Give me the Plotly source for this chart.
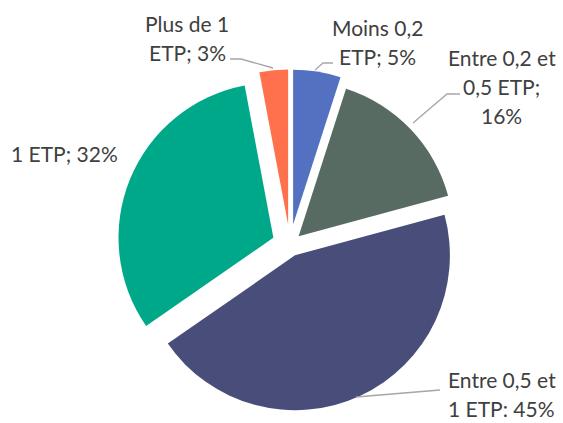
import plotly.graph_objects as go

# ---- data ----
categories = ["Moins 0,2 ETP", "Entre 0,2 et 0,5 ETP", "Entre 0,5 et 1 ETP", "1 ETP", "Plus de 1 ETP"]
values = [5, 16, 45, 32, 3]
label_texts = ["Moins 0,2<br>ETP; 5%", "Entre 0,2 et<br>0,5 ETP;<br>16%", "Entre 0,5 et<br>1 ETP: 45%",
               "1 ETP; 32%", "Plus de 1<br>ETP; 3%"]
colors = ["#5470C0", "#586B62", "#484D7A", "#00A88A", "#FF704D"]
pulls = [0.13, 0.077, 0.077, 0.116, 0.13]

W, H = 563, 423
LINE_GAP = 29


def px(x):
    return x / W


def py(y):
    return (H - y) / H


fig = go.Figure(go.Pie(
    labels=categories,
    values=values,
    sort=False,
    direction="clockwise",
    rotation=0,
    pull=pulls,
    marker=dict(colors=colors, line=dict(width=0)),
    textinfo="none",
    hoverinfo="label+percent",
    domain=dict(x=[px(114.5), px(465.5)], y=[py(419.5), py(69.5)]),
    showlegend=False,
))

# label positions (pixel centres of each text block) and leader lines
label_pos = [(377, 42.5), (502, 87), (502, 394), (64, 153), (187, 38.5)]
leaders = [
    [(333, 63), (323, 63), (315, 70)],
    [(460, 94), (447, 94), (413, 123)],
    [(440, 390), (356, 397)],
    None,
    [(230, 59), (241, 59), (273, 68)],
]

annotations = []
for txt, (x, y) in zip(label_texts, label_pos):
    lines = txt.split("<br>")
    n = len(lines)
    for i, line in enumerate(lines):
        ly = y + (i - (n - 1) / 2) * LINE_GAP
        annotations.append(dict(
            x=px(x), y=py(ly), xref="paper", yref="paper",
            text=line, showarrow=False, xanchor="center", yanchor="middle",
            align="center", borderpad=0,
            font=dict(family="Lato, Calibri, sans-serif", size=21, color="#404040"),
        ))

shapes = []
for pts in leaders:
    if not pts:
        continue
    path = "M " + " L ".join(f"{px(x)},{py(y)}" for x, y in pts)
    shapes.append(dict(type="path", xref="paper", yref="paper", path=path,
                       line=dict(color="#A6A6A6", width=1.3)))

fig.update_layout(
    width=W, height=H,
    margin=dict(l=0, r=0, t=0, b=0),
    paper_bgcolor="white", plot_bgcolor="white",
    annotations=annotations,
    shapes=shapes,
)

fig.write_html("out.html", config={"displayModeBar": False},
               post_script="document.body.style.margin='0';document.body.style.overflow='hidden';")
